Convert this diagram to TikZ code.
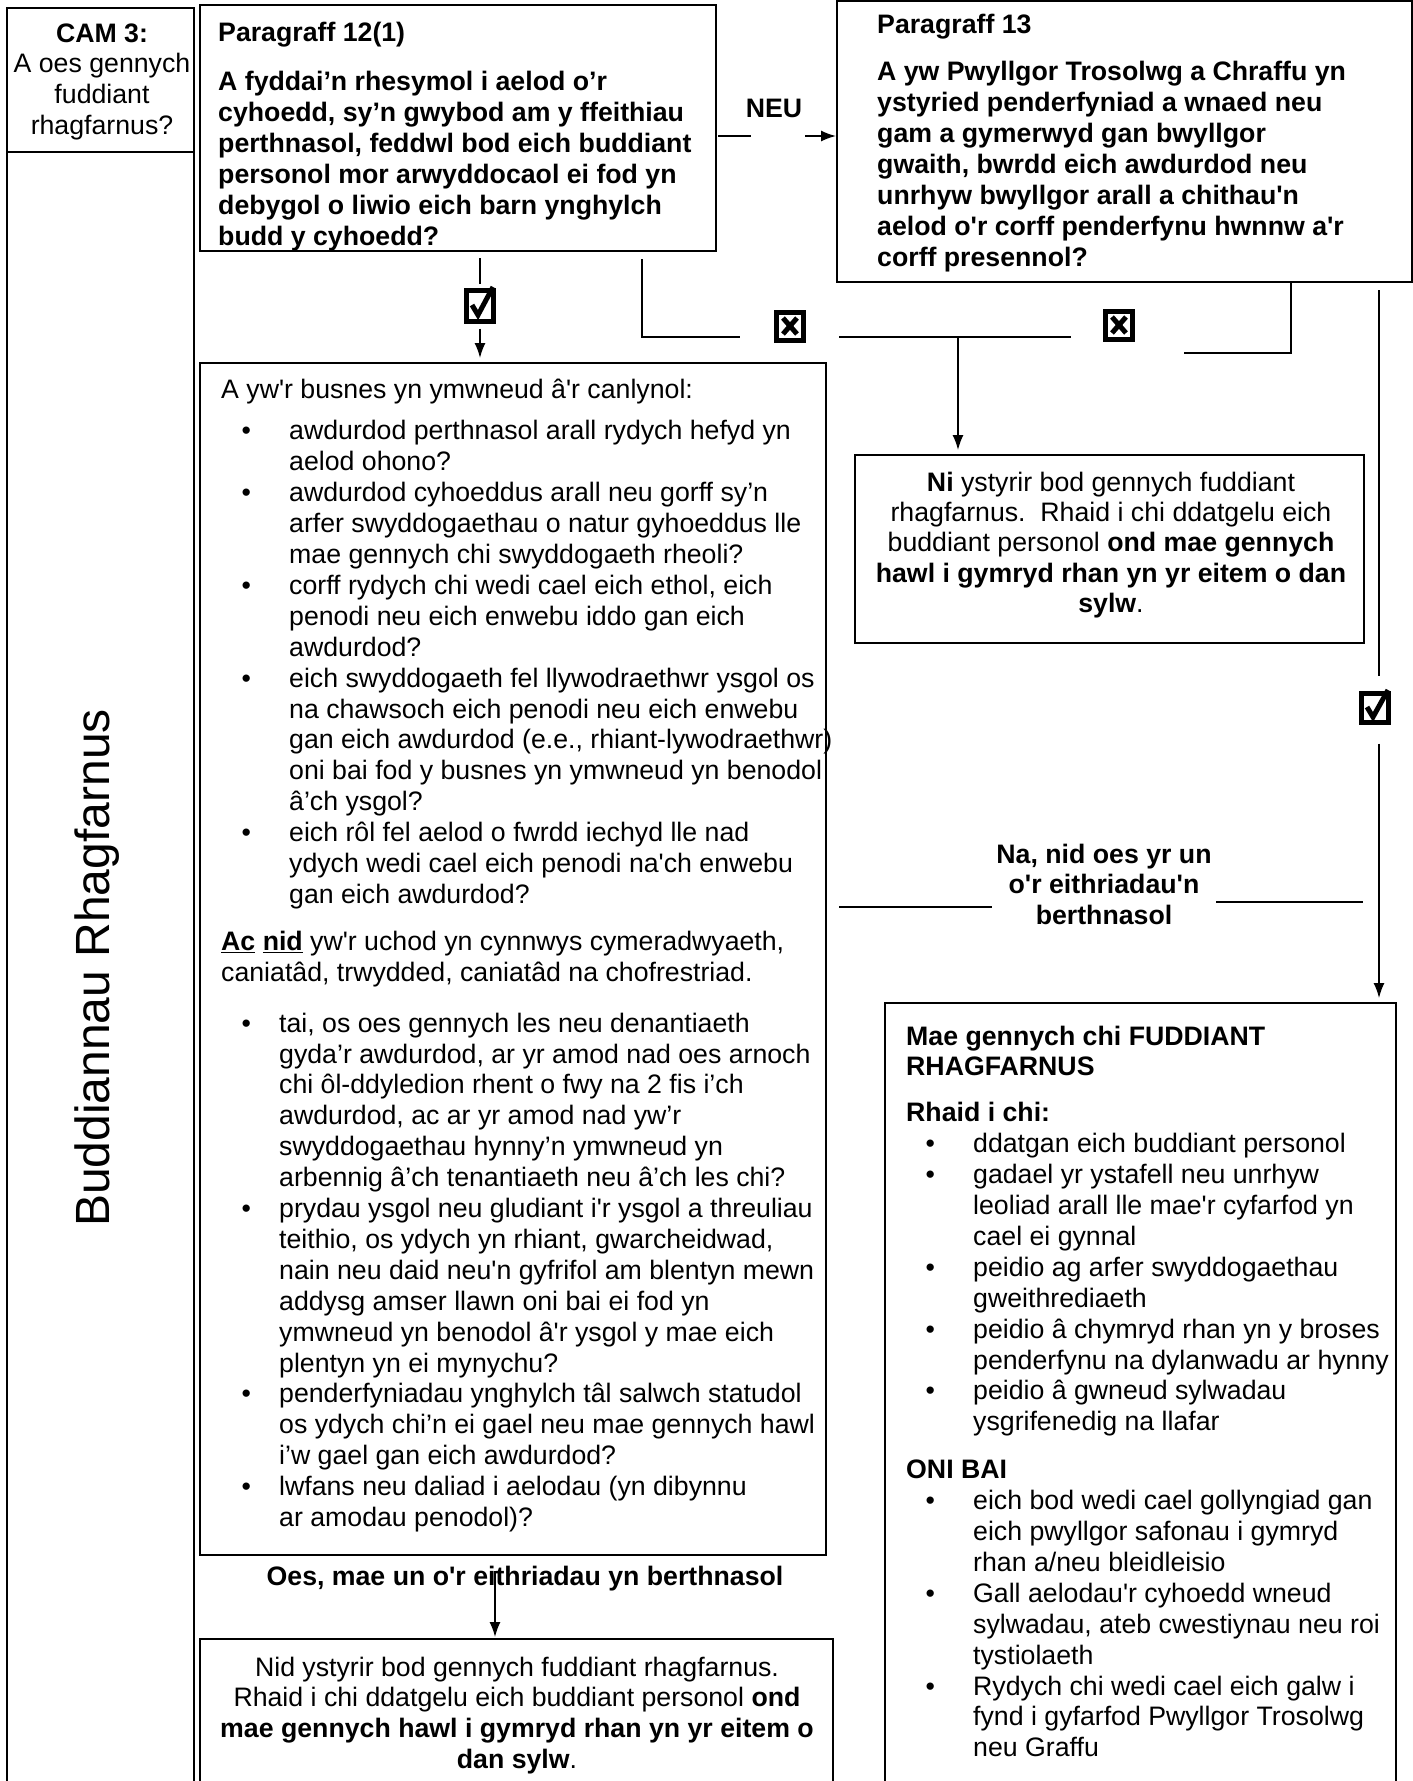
\documentclass[tikz,border=0pt]{standalone}
\usepackage{fontspec}
\setmainfont{Liberation Sans}
\usepackage{array}
\usetikzlibrary{arrows.meta}
\newcommand\aq{\textquotesingle}
\newcommand\bulA[1]{\makebox[68pt][l]{\hspace*{20.3pt}•}#1}
\newcommand\conA[1]{\hspace*{68pt}#1}
\newcommand\bulB[1]{\makebox[58pt][l]{\hspace*{20.3pt}•}#1}
\newcommand\conB[1]{\hspace*{58pt}#1}
\newcommand\bulR[1]{\makebox[67pt][l]{\hspace*{19.5pt}•}#1}
\newcommand\conR[1]{\hspace*{67pt}#1}
\begin{document}
\begin{tikzpicture}[x=1pt,y=-1pt,
  box/.style={draw, line width=1.6pt, rectangle, inner sep=0pt, outer sep=0pt, anchor=north west},
  txt/.style={inner sep=0pt, anchor=base west, font=\fontsize{26.7}{30.9}\selectfont},
  ctxt/.style={inner sep=0pt, anchor=base, font=\fontsize{26.7}{30.9}\selectfont},
  conn/.style={line width=1.5pt},
  arr/.style={line width=1.5pt, -{Latex[length=15pt,width=11pt]}},
  tickbox/.style={draw, line width=5pt, inner sep=0pt, outer sep=0pt},
  tickmark/.style={line width=5pt, line join=miter},
]
\useasboundingbox (0,0) rectangle (1413,1781);
\clip (0,0) rectangle (1413,1781);

% ---------- boxes ----------
\node[box, minimum width=187pt, minimum height=144pt] (cam) at (7,8) {};
\node[box, minimum width=187pt, minimum height=1660pt] (leftcol) at (7,152) {};
\node[box, minimum width=516pt, minimum height=246pt] (p12) at (200,5) {};
\node[box, minimum width=575pt, minimum height=281pt] (p13) at (837,1) {};
\node[box, minimum width=626pt, minimum height=1192pt] (bul) at (200,363) {};
\node[box, minimum width=509pt, minimum height=188pt] (ni) at (855,455) {};
\node[box, minimum width=511pt, minimum height=800pt] (rbox) at (885,1003) {};
\node[box, minimum width=633pt, minimum height=170pt] (bot) at (200,1639) {};

% ---------- texts ----------
\node[ctxt] (camtxt) at (102,42) {\begin{tabular}[t]{@{}c@{}}\textbf{CAM 3:}\\A oes gennych\\fuddiant\\rhagfarnus?\end{tabular}};

\node[rotate=90, inner sep=0pt, font=\fontsize{48}{48}\selectfont] (buddtxt) at (97,968) {Buddiannau Rhagfarnus};

\node[txt] (p12txt) at (218,41) {\begin{tabular}[t]{@{}>{\bfseries}l@{}}
Paragraff 12(1)\\[19pt]
A fyddai’n rhesymol i aelod o’r\\
cyhoedd, sy’n gwybod am y ffeithiau\\
perthnasol, feddwl bod eich buddiant\\
personol mor arwyddocaol ei fod yn\\
debygol o liwio eich barn ynghylch\\
budd y cyhoedd?\end{tabular}};

\node[ctxt] (neu) at (774,117) {\textbf{NEU}};

\node[txt] (p13txt) at (877,33) {\begin{tabular}[t]{@{}>{\bfseries}l@{}}
Paragraff 13\\[17pt]
A yw Pwyllgor Trosolwg a Chraffu yn\\
ystyried penderfyniad a wnaed neu\\
gam a gymerwyd gan bwyllgor\\
gwaith, bwrdd eich awdurdod neu\\
unrhyw bwyllgor arall a chithau\aq n\\
aelod o\aq r corff penderfynu hwnnw a\aq r\\
corff presennol?\end{tabular}};

\node[txt] (bultxt) at (221,398) {\begin{tabular}[t]{@{}l@{}}
A yw\aq r busnes yn ymwneud â\aq r canlynol:\\[11pt]
\bulA{awdurdod perthnasol arall rydych hefyd yn}\\
\conA{aelod ohono?}\\
\bulA{awdurdod cyhoeddus arall neu gorff sy’n}\\
\conA{arfer swyddogaethau o natur gyhoeddus lle}\\
\conA{mae gennych chi swyddogaeth rheoli?}\\
\bulA{corff rydych chi wedi cael eich ethol, eich}\\
\conA{penodi neu eich enwebu iddo gan eich}\\
\conA{awdurdod?}\\
\bulA{eich swyddogaeth fel llywodraethwr ysgol os}\\
\conA{na chawsoch eich penodi neu eich enwebu}\\
\conA{gan eich awdurdod (e.e., rhiant-lywodraethwr)}\\
\conA{oni bai fod y busnes yn ymwneud yn benodol}\\
\conA{â’ch ysgol?}\\
\bulA{eich rôl fel aelod o fwrdd iechyd lle nad}\\
\conA{ydych wedi cael eich penodi na\aq ch enwebu}\\
\conA{gan eich awdurdod?}\\[16pt]
\underline{\textbf{Ac}} \underline{\textbf{nid}} yw\aq r uchod yn cynnwys cymeradwyaeth,\\
caniatâd, trwydded, caniatâd na chofrestriad.\\[20pt]
\bulB{tai, os oes gennych les neu denantiaeth}\\
\conB{gyda’r awdurdod, ar yr amod nad oes arnoch}\\
\conB{chi ôl-ddyledion rhent o fwy na 2 fis i’ch}\\
\conB{awdurdod, ac ar yr amod nad yw’r}\\
\conB{swyddogaethau hynny’n ymwneud yn}\\
\conB{arbennig â’ch tenantiaeth neu â’ch les chi?}\\
\bulB{prydau ysgol neu gludiant i\aq r ysgol a threuliau}\\
\conB{teithio, os ydych yn rhiant, gwarcheidwad,}\\
\conB{nain neu daid neu\aq n gyfrifol am blentyn mewn}\\
\conB{addysg amser llawn oni bai ei fod yn}\\
\conB{ymwneud yn benodol â\aq r ysgol y mae eich}\\
\conB{plentyn yn ei mynychu?}\\
\bulB{penderfyniadau ynghylch tâl salwch statudol}\\
\conB{os ydych chi’n ei gael neu mae gennych hawl}\\
\conB{i’w gael gan eich awdurdod?}\\
\bulB{lwfans neu daliad i aelodau (yn dibynnu}\\
\conB{ar amodau penodol)?}\end{tabular}};

\node[ctxt, font=\fontsize{26.7}{30.4}\selectfont] (nitxt) at (1111,491) {\begin{tabular}[t]{@{}c@{}}
\textbf{Ni} ystyrir bod gennych fuddiant\\
rhagfarnus.\ \ Rhaid i chi ddatgelu eich\\
buddiant personol \textbf{ond mae gennych}\\
\textbf{hawl i gymryd rhan yn yr eitem o dan}\\
\textbf{sylw}.\end{tabular}};

\node[ctxt] (natxt) at (1104,863) {\begin{tabular}[t]{@{}>{\bfseries}c@{}}
Na, nid oes yr un\\
o\aq r eithriadau\aq n\\
berthnasol\end{tabular}};

\node[txt] (rtxt) at (906,1045) {\begin{tabular}[t]{@{}l@{}}
\textbf{Mae gennych chi FUDDIANT}\\
\textbf{RHAGFARNUS}\\[15pt]
\textbf{Rhaid i chi:}\\
\bulR{ddatgan eich buddiant personol}\\
\bulR{gadael yr ystafell neu unrhyw}\\
\conR{leoliad arall lle mae\aq r cyfarfod yn}\\
\conR{cael ei gynnal}\\
\bulR{peidio ag arfer swyddogaethau}\\
\conR{gweithrediaeth}\\
\bulR{peidio â chymryd rhan yn y broses}\\
\conR{penderfynu na dylanwadu ar hynny}\\
\bulR{peidio â gwneud sylwadau}\\
\conR{ysgrifenedig na llafar}\\[17pt]
\textbf{ONI BAI}\\
\bulR{eich bod wedi cael gollyngiad gan}\\
\conR{eich pwyllgor safonau i gymryd}\\
\conR{rhan a/neu bleidleisio}\\
\bulR{Gall aelodau\aq r cyhoedd wneud}\\
\conR{sylwadau, ateb cwestiynau neu roi}\\
\conR{tystiolaeth}\\
\bulR{Rydych chi wedi cael eich galw i}\\
\conR{fynd i gyfarfod Pwyllgor Trosolwg}\\
\conR{neu Graffu}\end{tabular}};

\node[ctxt] (oes) at (525,1585) {\textbf{Oes, mae un o\aq r eithriadau yn berthnasol}};

\node[ctxt] (bottxt) at (517,1676) {\begin{tabular}[t]{@{}c@{}}
Nid ystyrir bod gennych fuddiant rhagfarnus.\\
Rhaid i chi ddatgelu eich buddiant personol \textbf{ond}\\
\textbf{mae gennych hawl i gymryd rhan yn yr eitem o}\\
\textbf{dan sylw}.\end{tabular}};

% ---------- tick / cross boxes ----------
\node[tickbox, minimum width=27pt, minimum height=31pt] (chk1) at (480,306) {};
\draw[tickmark] (chk1.center) ++(-8,-1) -- ++(6,10) -- ++(15,-28);
\node[tickbox, minimum width=27pt, minimum height=29pt] (chk2) at (1375,708) {};
\draw[tickmark] (chk2.center) ++(-8,-1) -- ++(6,10) -- ++(15,-27);
\node[tickbox, minimum width=27pt, minimum height=28pt] (x1) at (790,326) {};
\draw[tickmark] (x1.center) ++(-7,-8) -- ++(14,16);
\draw[tickmark] (x1.center) ++(-7,8) -- ++(14,-16);
\node[tickbox, minimum width=27pt, minimum height=28pt] (x2) at (1119,325) {};
\draw[tickmark] (x2.center) ++(-7,-8) -- ++(14,16);
\draw[tickmark] (x2.center) ++(-7,8) -- ++(14,-16);

% ---------- connectors ----------
% NEU arrow
\coordinate (n1) at (718,136);
\coordinate (n2) at (751,136);
\coordinate (n3) at (805,136);
\draw[conn] (n1) -- (n2);
\draw[arr, shorten >=1pt] (n3) -- (p13.west |- n3);

% yes from P12
\coordinate (a1) at (480,258);
\draw[conn, shorten >=7pt] (a1) -- (chk1.north);
\draw[arr, shorten <=7pt, shorten >=5pt] (chk1.south) -- (bul.north -| chk1.south);

% no from P12 / P13
\coordinate (b1) at (642,259);
\coordinate (b2) at (642,337);
\coordinate (b3) at (740,337);
\draw[conn] (b1) -- (b2) -- (b3);
\coordinate (c1) at (839,337);
\coordinate (c2) at (1071,337);
\draw[conn] (c1) -- (c2);
\coordinate (c3) at (958,337);
\draw[arr, shorten >=5pt] (c3) -- (ni.north -| c3);
\coordinate (d1) at (1184,353);
\coordinate (d2) at (1291,353);
\draw[conn] (d1) -- (d2) -- (d2 |- p13.south);

% yes from P13
\coordinate (e1) at (1379,290);
\draw[conn, shorten >=18pt] (e1) -- (e1 |- chk2.north);
\draw[arr, shorten <=21pt, shorten >=5pt] (e1 |- chk2.south) -- (e1 |- rbox.north);

% Na label lines
\coordinate (f1) at (839,907);
\coordinate (f2) at (992,907);
\coordinate (f3) at (1216,902);
\coordinate (f4) at (1363,902);
\draw[conn] (f1) -- (f2);
\draw[conn] (f3) -- (f4);

% Oes arrow
\coordinate (o1) at (495,1571);
\draw[arr, shorten >=2pt] (o1) -- (bot.north -| o1);
\end{tikzpicture}
\end{document}
